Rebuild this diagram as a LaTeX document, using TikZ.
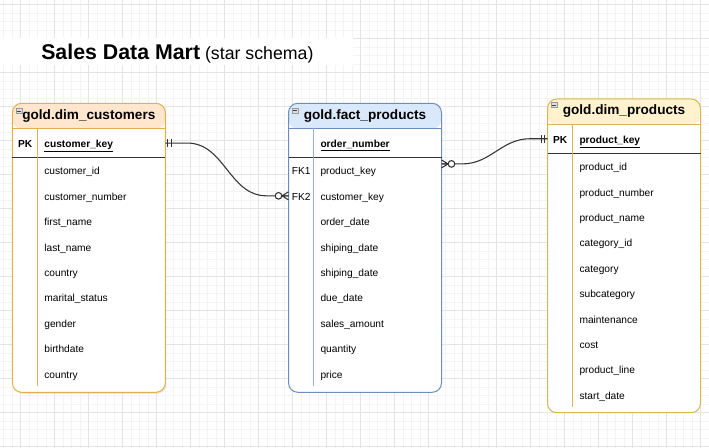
\documentclass[tikz,border=0pt]{standalone}
\usepackage{fontspec}
\setmainfont{Liberation Sans}
\usetikzlibrary{positioning,shadows}

\definecolor{custfill}{HTML}{FFE6CC}
\definecolor{custline}{HTML}{E3B04B}
\definecolor{factfill}{HTML}{DAE8FC}
\definecolor{factline}{HTML}{6C8EBF}
\definecolor{prodfill}{HTML}{FFF2CC}
\definecolor{prodline}{HTML}{D6B656}
\definecolor{gridlight}{HTML}{F4F4F4}
\definecolor{griddark}{HTML}{E4E4E4}
\definecolor{linkgray}{HTML}{333333}

\begin{document}
\begin{tikzpicture}[x=0.75pt,y=-0.75pt,
    gridlo/.style={draw=gridlight,line width=0.75pt},
    gridhi/.style={draw=griddark,line width=0.75pt},
    tbl/.style={draw=#1line,line width=0.75pt,rounded corners=7pt,fill=white,minimum width=114.75pt,inner sep=0pt,
      path picture={\fill[#1fill] (path picture bounding box.north west) rectangle ([yshift=-19.2pt]path picture bounding box.north east);
        \draw[#1line,line width=0.75pt] ([yshift=-19.2pt]path picture bounding box.north west) -- ([yshift=-19.2pt]path picture bounding box.north east);}},
    ttl/.style={font=\bfseries\fontsize{10.2}{12}\selectfont,inner sep=0pt},
    fold/.style={draw=gray!80,fill=gray!25,line width=0.4pt,minimum width=4.5pt,minimum height=3.8pt,inner sep=0pt,
      path picture={\draw[black!75,line width=0.6pt] ([xshift=0.8pt]path picture bounding box.west) -- ([xshift=-0.8pt]path picture bounding box.east);}},
    fld/.style={font=\fontsize{7.65}{9}\selectfont,minimum height=19.05pt,inner xsep=24pt,inner ysep=0pt,outer sep=0pt,text width=66.75pt,align=left,text height=7pt,text depth=0.2pt},
    keyrow/.style={fld,minimum height=22pt,font=\bfseries\fontsize{7.65}{9}\selectfont},
    keylbl/.style={font=\fontsize{7.65}{9}\selectfont,inner sep=0pt,text height=7pt,text depth=0.2pt},
    keysep/.style={draw=linkgray,line width=0.75pt},
    link/.style={draw=linkgray,line width=0.8pt},
    one/.pic={\draw[link] (2.6,-4) -- (2.6,4) (6,-4) -- (6,4);},
    many/.pic={\draw[link] (0,-4) -- (6.5,0) -- (0,4) (0,0) -- (6.5,0); \draw[link,fill=white] (10,0) circle (3.3);}]

    \useasboundingbox (0,0) rectangle (709,448);

    % grid
    \foreach \gx in {3.7,12.2,...,709} \draw[gridlo] (\gx,0) -- (\gx,448);
    \foreach \gy in {4.7,13.2,...,448} \draw[gridlo] (0,\gy) -- (709,\gy);
    \foreach \gx in {20.7,54.7,...,709} \draw[gridhi] (\gx,0) -- (\gx,448);
    \foreach \gy in {4.7,38.7,...,448} \draw[gridhi] (0,\gy) -- (709,\gy);

    % title
    \fill[white] (0,38.5) rectangle (353,65);
    \node[inner sep=0pt,anchor=base west,font=\fontsize{13.3}{16}\selectfont] (title) at (41,59.3)
        {{\bfseries\fontsize{16}{19}\selectfont Sales Data Mart} (star schema)};

    % gold.dim_customers
    \node[tbl=cust,minimum height=216.75pt,drop shadow={opacity=0.18,shadow xshift=0.8pt,shadow yshift=-1.2pt}] (cust) at (88.85,247.8) {};
    \node[ttl] (custt) at ([yshift=-9.6pt]cust.north) {gold.dim\_customers};
    \node[fold] (custf) at ([xshift=5.2pt,yshift=-6.1pt]cust.north west) {};
    \node[keyrow] (ck) [below=19.2pt of cust.north] {\underline{customer\_key}};
    \node[fld] (c1) [below=0pt of ck] {customer\_id};
    \node[fld] (c2) [below=0pt of c1] {customer\_number};
    \node[fld] (c3) [below=0pt of c2] {first\_name};
    \node[fld] (c4) [below=0pt of c3] {last\_name};
    \node[fld] (c5) [below=0pt of c4] {country};
    \node[fld] (c6) [below=0pt of c5] {marital\_status};
    \node[fld] (c7) [below=0pt of c6] {gender};
    \node[fld] (c8) [below=0pt of c7] {birthdate};
    \node[fld] (c9) [below=0pt of c8] {country};
    \node[keylbl,font=\bfseries\fontsize{7.65}{9}\selectfont] (ckl) at ([xshift=9.56pt]ck.west) {PK};
    \draw[keysep] (ck.south west) -- (ck.south east);
    \draw[custline,line width=0.75pt] ([xshift=19.1pt]ck.north west) -- ([xshift=19.1pt]c9.south west);

    % gold.fact_products
    \node[tbl=fact,minimum height=216.75pt] (fact) at (365,247.8) {};
    \node[ttl] (factt) at ([yshift=-9.6pt]fact.north) {gold.fact\_products};
    \node[fold] (factf) at ([xshift=5.2pt,yshift=-6pt]fact.north west) {};
    \node[keyrow] (fo) [below=19.2pt of fact.north] {\underline{order\_number}};
    \node[fld] (f1) [below=0pt of fo] {product\_key};
    \node[fld] (f2) [below=0pt of f1] {customer\_key};
    \node[fld] (f3) [below=0pt of f2] {order\_date};
    \node[fld] (f4) [below=0pt of f3] {shiping\_date};
    \node[fld] (f5) [below=0pt of f4] {shiping\_date};
    \node[fld] (f6) [below=0pt of f5] {due\_date};
    \node[fld] (f7) [below=0pt of f6] {sales\_amount};
    \node[fld] (f8) [below=0pt of f7] {quantity};
    \node[fld] (f9) [below=0pt of f8] {price};
    \node[keylbl] (f1l) at ([xshift=9.56pt]f1.west) {FK1};
    \node[keylbl] (f2l) at ([xshift=9.56pt]f2.west) {FK2};
    \draw[keysep] (fo.south west) -- (fo.south east);
    \draw[factline!70,line width=0.75pt] ([xshift=19.1pt]fo.north west) -- ([xshift=19.1pt]f9.south west);

    % gold.dim_products
    \node[tbl=prod,minimum height=235.3pt] (prod) at (624,255.85) {};
    \node[ttl] (prodt) at ([yshift=-9.6pt]prod.north) {gold.dim\_products};
    \node[fold] (prodf) at ([xshift=5.4pt,yshift=-5pt]prod.north west) {};
    \node[keyrow] (pk) [below=19.2pt of prod.north] {\underline{product\_key}};
    \node[fld] (p1) [below=0pt of pk] {product\_id};
    \node[fld] (p2) [below=0pt of p1] {product\_number};
    \node[fld] (p3) [below=0pt of p2] {product\_name};
    \node[fld] (p4) [below=0pt of p3] {category\_id};
    \node[fld] (p5) [below=0pt of p4] {category};
    \node[fld] (p6) [below=0pt of p5] {subcategory};
    \node[fld] (p7) [below=0pt of p6] {maintenance};
    \node[fld] (p8) [below=0pt of p7] {cost};
    \node[fld] (p9) [below=0pt of p8] {product\_line};
    \node[fld] (p10) [below=0pt of p9] {start\_date};
    \node[keylbl,font=\bfseries\fontsize{7.65}{9}\selectfont] (pkl) at ([xshift=9.56pt]pk.west) {PK};
    \draw[keysep] (pk.south west) -- (pk.south east);
    \draw[prodline,line width=0.75pt] ([xshift=19.1pt]pk.north west) -- ([xshift=19.1pt]p10.south west);

    % relations
    \draw[link] (ck.east) -- ++(22,0) to[out=0,in=180] ([xshift=-16.5pt]f2.west) -- (f2.west);
    \draw[link] ([yshift=4.9pt]f1.east) -- ++(21,0) to[out=0,in=180] ([xshift=-13.3pt]pk.west) -- (pk.west);
    \pic at (ck.east) {one};
    \pic[rotate=180] at (f2.west) {many};
    \pic at ([yshift=4.9pt]f1.east) {many};
    \pic[rotate=180] at (pk.west) {one};
\end{tikzpicture}
\end{document}
